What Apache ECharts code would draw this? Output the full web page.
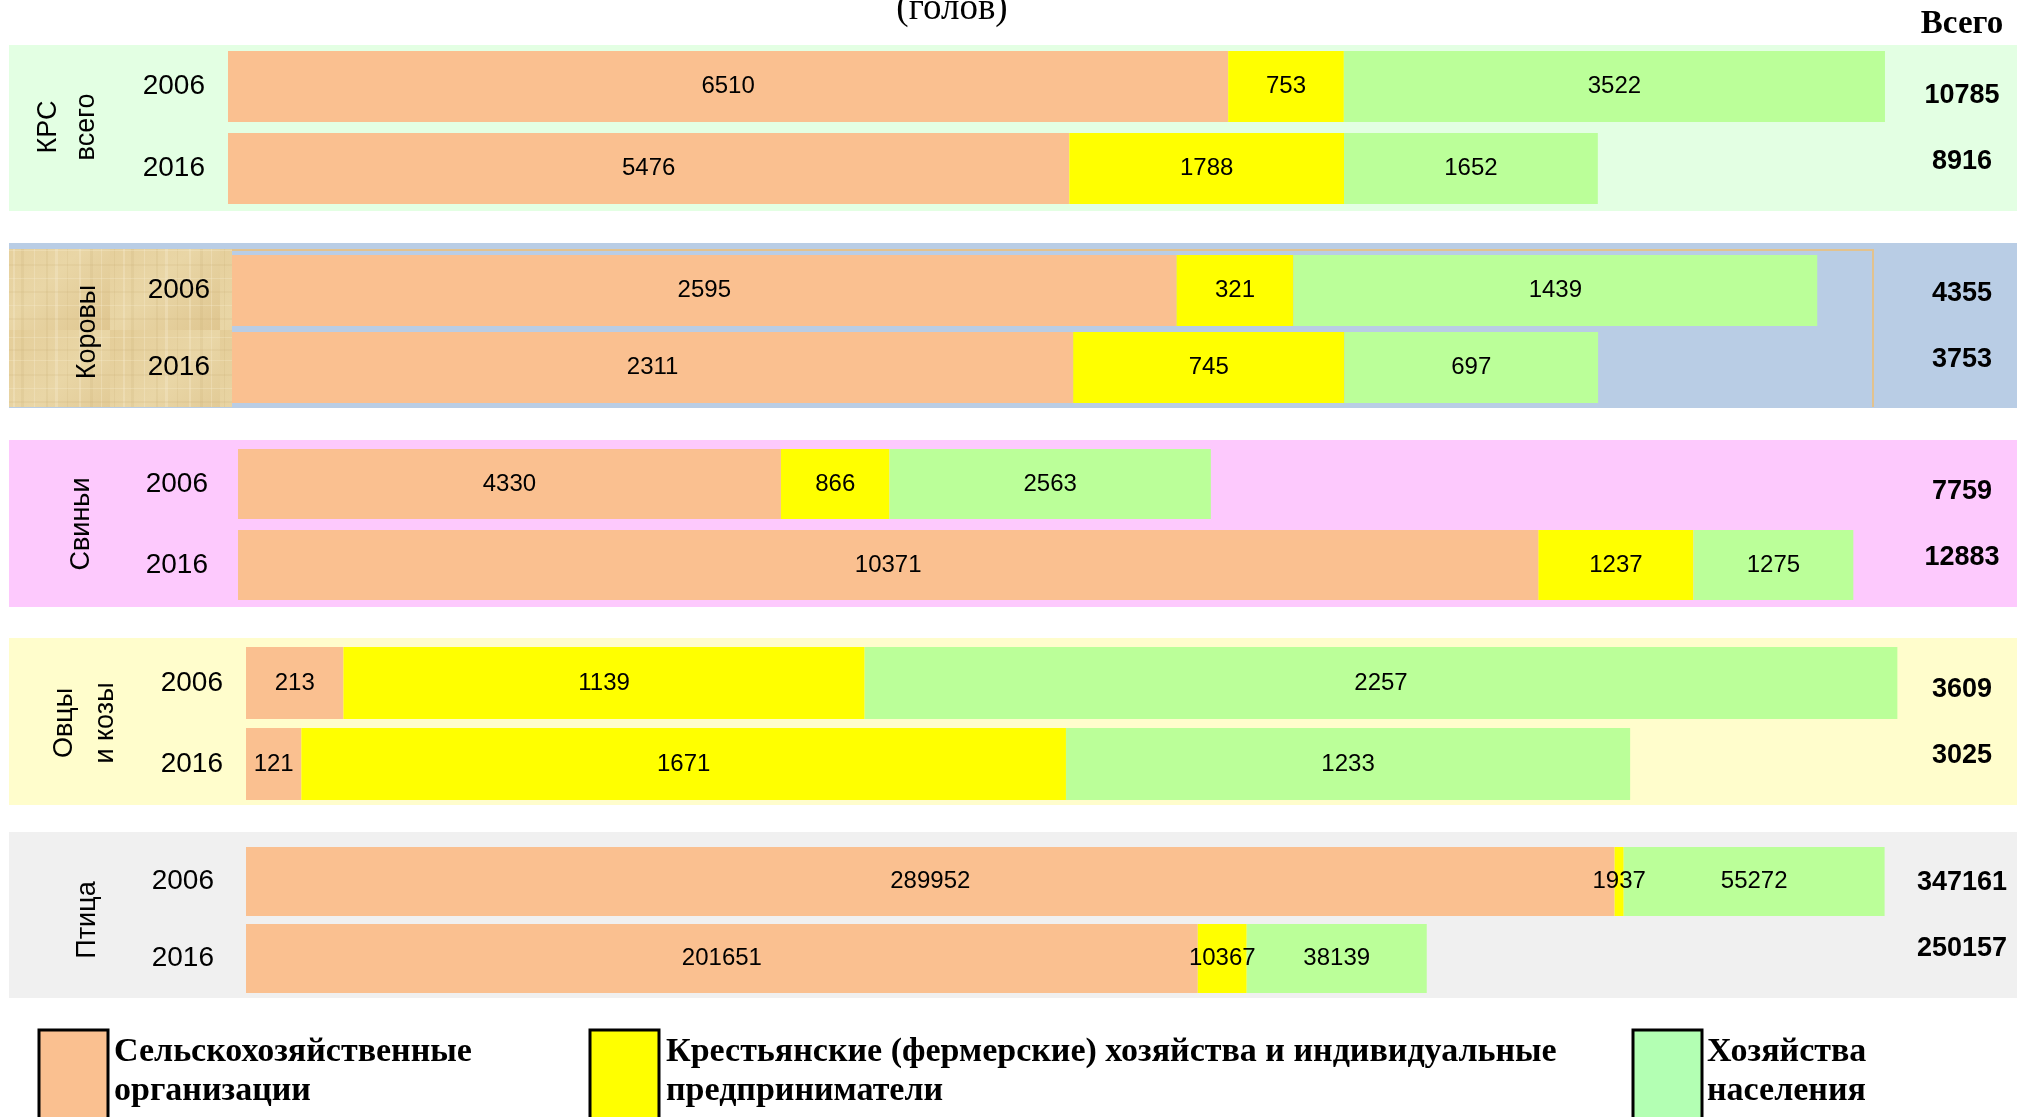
<!DOCTYPE html>
<html>
<head>
<meta charset="utf-8">
<script src="https://cdn.jsdelivr.net/npm/echarts@6/dist/echarts.min.js"></script>
<style>
html,body{margin:0;padding:0;background:#fff;}
#chart{width:2017px;height:1117px;}
</style>
</head>
<body>
<div id="chart"></div>
<script>
// ---------- DATA ----------
const groupNames = ['КРС\nвсего', 'Коровы', 'Свиньи', 'Овцы\nи козы', 'Птица'];
const years = ['2006', '2016'];
const seriesNames = [
  'Сельскохозяйственные организации',
  'Крестьянские (фермерские) хозяйства и индивидуальные предприниматели',
  'Хозяйства населения'
];
// values per group: [2006, 2016]
const agroOrgs   = [[6510, 5476], [2595, 2311], [4330, 10371], [213, 121], [289952, 201651]];
const farmers    = [[753, 1788], [321, 745], [866, 1237], [1139, 1671], [1937, 10367]];
const households = [[3522, 1652], [1439, 697], [2563, 1275], [2257, 1233], [55272, 38139]];
const titleText = '(голов)';
const totalHeader = 'Всего';
const legendLabels = ['Сельскохозяйственные\nорганизации', 'Крестьянские (фермерские) хозяйства и индивидуальные\nпредприниматели', 'Хозяйства\nнаселения'];

// ---------- LAYOUT / STYLE ----------
const W = 2017;
const colors = ['#FAC090', '#FFFF00', '#BBFF99'];
const legendColors = ['#FAC090', '#FFFF00', '#B3FFB3'];
const layout = [
  {left: 228, width: 1690, max: 11000, top: 45.5, height: 164, barW: 71, margin: 23, band: [45, 211], bandColor: '#E3FFE3', lx: 68, ly: 127, lh: 38},
  {left: 232, width: 1638, max: 4500, top: 252, height: 154, barW: 71, margin: 22, band: [243, 408], bandColor: '#B9CDE5', lx: 88, ly: 332, lh: 38},
  {left: 238, width: 1630, max: 13000, top: 443.5, height: 162, barW: 70, margin: 30, band: [440, 607], bandColor: '#FDC9FD', lx: 82, ly: 524, lh: 38},
  {left: 246, width: 1693, max: 3700, top: 642.5, height: 162, barW: 72, margin: 23, band: [638, 805], bandColor: '#FFFDCC', lx: 85, ly: 723, lh: 41},
  {left: 246, width: 1652, max: 350000, top: 843, height: 154, barW: 69, margin: 32, band: [832, 998], bandColor: '#F0F0F0', lx: 88, ly: 920, lh: 38}
];
const totalsX = 1962;

function papyrusPattern() {
  const c = document.createElement('canvas');
  c.width = 110; c.height = 110;
  const ctx = c.getContext('2d');
  const grad = ctx.createLinearGradient(0, 0, 110, 110);
  grad.addColorStop(0, '#E4CD98');
  grad.addColorStop(0.5, '#E9D6A6');
  grad.addColorStop(1, '#DFC690');
  ctx.fillStyle = grad;
  ctx.fillRect(0, 0, 110, 110);
  const xs = [4, 13, 21, 34, 46, 55, 67, 79, 90, 101];
  xs.forEach((x, i) => {
    ctx.fillStyle = i % 2 ? 'rgba(246,236,205,0.35)' : 'rgba(196,165,105,0.15)';
    ctx.fillRect(x, 0, 1 + (i % 3), 110);
  });
  const ys = [7, 19, 30, 44, 58, 71, 85, 98];
  ys.forEach((y, i) => {
    ctx.fillStyle = i % 2 ? 'rgba(200,170,110,0.14)' : 'rgba(248,238,208,0.3)';
    ctx.fillRect(0, y, 110, 1 + (i % 2));
  });
  return c;
}

const grids = [], xAxes = [], yAxes = [], series = [], graphics = [];
const valueSets = [agroOrgs, farmers, households];

layout.forEach((L, g) => {
  grids.push({left: L.left, width: L.width, top: L.top, height: L.height, containLabel: false});
  xAxes.push({type: 'value', gridIndex: g, min: 0, max: L.max, show: false});
  yAxes.push({
    type: 'category', gridIndex: g, data: years, inverse: true,
    axisLine: {show: false}, axisTick: {show: false}, splitLine: {show: false},
    axisLabel: {fontFamily: 'Liberation Sans', fontSize: 28, color: '#000', margin: L.margin}
  });
  valueSets.forEach((vals, s) => {
    series.push({
      type: 'bar', name: seriesNames[s], xAxisIndex: g, yAxisIndex: g, stack: 'g' + g,
      data: vals[g], barWidth: L.barW, itemStyle: {color: colors[s]},
      label: {show: true, position: 'inside', color: '#000', fontFamily: 'Liberation Sans', fontSize: 24},
      emphasis: {disabled: true}, silent: true
    });
  });
  // background band
  graphics.push({type: 'rect', z: -10, shape: {x: 9, y: L.band[0], width: W - 9, height: L.band[1] - L.band[0]}, style: {fill: L.bandColor}});
  // group label (rotated)
  graphics.push({type: 'text', z: 100, x: L.lx, y: L.ly, rotation: Math.PI / 2,
    style: {text: groupNames[g], fontFamily: 'Liberation Sans', fontSize: 27, fill: '#000', align: 'center', verticalAlign: 'middle', lineHeight: L.lh}});
  // totals
  const cy = (L.band[0] + L.band[1]) / 2 + 1;
  [0, 1].forEach(yi => {
    const tot = agroOrgs[g][yi] + farmers[g][yi] + households[g][yi];
    graphics.push({type: 'text', z: 100, x: totalsX, y: cy + (yi === 0 ? -33 : 33),
      style: {text: String(tot), fontFamily: 'Liberation Sans', fontWeight: 'bold', fontSize: 27, fill: '#000', align: 'center', verticalAlign: 'middle'}});
  });
});

// papyrus block for "Коровы"
graphics.push({type: 'rect', z: -5, shape: {x: 9, y: 249, width: 223, height: 158}, style: {fill: {image: papyrusPattern(), repeat: 'repeat'}}});
graphics.push({type: 'polyline', z: -4, shape: {points: [[232, 250], [1873, 250], [1873, 407]]}, style: {stroke: '#E2C28E', lineWidth: 2, fill: null}});

// title & header
graphics.push({type: 'text', z: 100, x: 952, y: 9, style: {text: titleText, fontFamily: 'Liberation Serif', fontSize: 37, fill: '#000', align: 'center', verticalAlign: 'middle'}});
graphics.push({type: 'text', z: 100, x: totalsX, y: 24, style: {text: totalHeader, fontFamily: 'Liberation Serif', fontWeight: 'bold', fontSize: 33, fill: '#000', align: 'center', verticalAlign: 'middle'}});

// legend
const legendBoxX = [39, 590, 1633];
const legendTextX = [114, 666, 1707];
legendLabels.forEach((t, i) => {
  graphics.push({type: 'rect', z: 100, shape: {x: legendBoxX[i], y: 1030, width: 69, height: 120}, style: {fill: legendColors[i], stroke: '#000', lineWidth: 3}});
  graphics.push({type: 'text', z: 100, x: legendTextX[i], y: 1072, style: {text: t, fontFamily: 'Liberation Serif', fontWeight: 'bold', fontSize: 34, lineHeight: 39, fill: '#000', align: 'left', verticalAlign: 'middle'}});
});

const chart = echarts.init(document.getElementById('chart'), null, {renderer: 'canvas'});
chart.setOption({
  animation: false,
  backgroundColor: '#fff',
  grid: grids,
  xAxis: xAxes,
  yAxis: yAxes,
  series: series,
  graphic: graphics
});
</script>
</body>
</html>
